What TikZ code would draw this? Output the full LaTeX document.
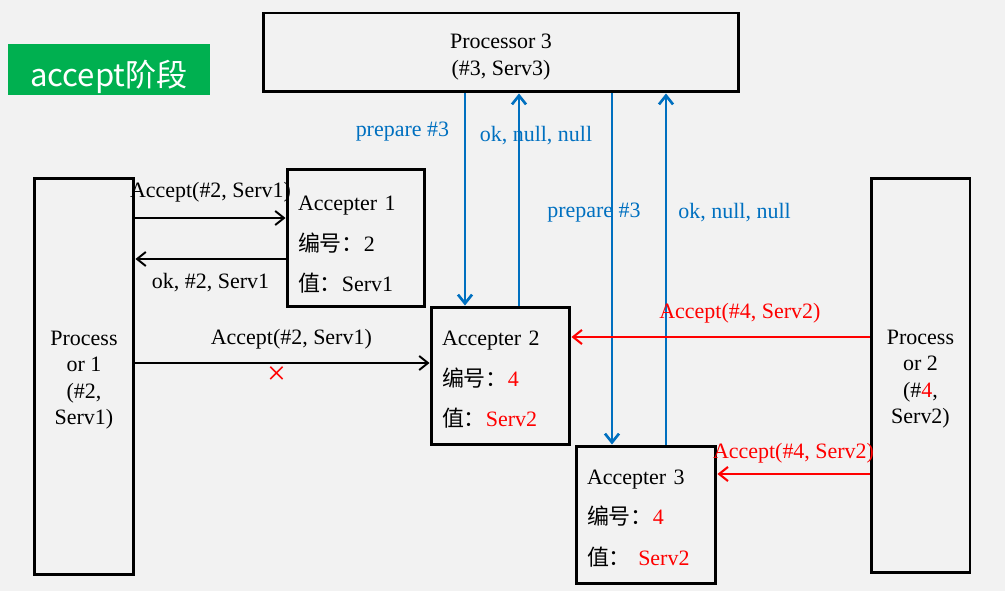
\documentclass[tikz,border=0pt]{standalone}
\usepackage{fontspec}
\setmainfont{Liberation Serif}
\newfontfamily\cjk{Noto Sans CJK SC}
\usetikzlibrary{arrows.meta,positioning}
\definecolor{slidebg}{HTML}{F2F2F2}
\definecolor{msgblue}{HTML}{0070C0}
\definecolor{msgred}{HTML}{FF0000}
\definecolor{stagegreen}{HTML}{00B050}
\def \px {0.02cm}
\newcommand{\zh}[1]{{\cjk #1}}
\newcommand{\lowc}[2][-2.3pt]{\raisebox{#1}[\height][\depth]{\begin{tabular}{@{}c@{}}#2\end{tabular}}}
\newcommand{\lowl}[2][-3pt]{\raisebox{#1}[\height][\depth]{\begin{tabular}{@{}l@{}}#2\end{tabular}}}

\begin{document}
\begin{tikzpicture}[x=\px,y=-\px,
    >={Straight Barb[length=5pt,width=8pt]},
    every node/.style={font=\fontsize{12.5}{15}\selectfont},
    box/.style={draw,line width=1.7pt,inner sep=0pt},
    acc/.style={box,minimum height=2.76cm,inner xsep=0.22cm,align=left,
      font=\fontsize{12.5}{23}\selectfont},
    msg/.style={->,line width=1.1pt},
    blu/.style={msg,draw=msgblue,line width=1.5pt},
    rd/.style={msg,draw=msgred,line width=1.2pt}]
  \fill[slidebg] (0,0) rectangle (1005,591);
  \useasboundingbox (0,0) rectangle (1005,591);

  \node[fill=stagegreen,text=white,minimum width=4.04cm,minimum height=1.02cm,
    font=\cjk\fontsize{17.7}{20}\selectfont] (stage) at (109,69.5)
    {\raisebox{-4pt}[\height][\depth]{accept阶段}};

  \node[box,minimum width=9.52cm,minimum height=1.58cm] (p3) at (501,52.5)
    {\lowc[-2.5pt]{Processor 3\\(\#3, Serv3)}};
  \node[box,minimum width=2cm,minimum height=7.94cm] (p1) at (84,376.5)
    {\lowc[-1.9pt]{Process\\or 1\\(\#2,\\Serv1)}};
  \node[box,minimum width=1.98cm,minimum height=7.9cm] (p2) at (920.5,375.5)
    {\lowc[-1.9pt]{Process\\or 2\\(\#\textcolor{msgred}{4},\\Serv2)}};

  \node[acc,minimum width=2.76cm,text width=2.32cm] (a1) at (356,238)
    {\lowl{Accepter 1\\\zh{编号：}2\\\zh{值：}Serv1}};
  \node[acc,minimum width=2.78cm,text width=2.34cm] (a2) at (500.5,376)
    {\lowl[-1.2pt]{Accepter 2\\\zh{编号：}\textcolor{msgred}{4}\\\zh{值：}\textcolor{msgred}{Serv2}}};
  \node[acc,minimum width=2.8cm,text width=2.36cm] (a3) at (646,515)
    {\lowl[-1pt]{Accepter 3\\\zh{编号：}\textcolor{msgred}{4}\\\zh{值：} \textcolor{msgred}{Serv2}}};

  % processor 1 <-> accepters
  \draw[msg] (p1.east |- 0,218) -- node[above=5pt] {Accept(\#2, Serv1)} (a1.west |- 0,218);
  \draw[msg] (a1.west |- 0,259) -- node[below=4pt] {ok, \#2, Serv1} (p1.east |- 0,259);
  \draw[msg] (p1.east |- 0,363) -- node[pos=0.53,above=4pt] {Accept(\#2, Serv1)}
    node[pos=0.48,yshift=-0.26cm,text=msgred,font=\fontsize{19}{19}\selectfont] (lost) {×}
    (a2.west |- 0,363);

  % processor 3 prepare
  \draw[blu] (p3.south -| 465,0) -- node[pos=0.18,left=5pt,text=msgblue] {prepare \#3} (a2.north -| 465,0);
  \draw[blu] (a2.north -| 519,0) -- node[pos=0.8,xshift=0.34cm,text=msgblue] {ok, null, null} (p3.south -| 519,0);
  \draw[blu] (p3.south -| 612,0) -- node[pos=0.34,xshift=-0.36cm,text=msgblue] {prepare \#3} (a3.north -| 612,0);
  \draw[blu] (a3.north -| 666,0) -- node[pos=0.66,right=3pt,text=msgblue] {ok, null, null} (p3.south -| 666,0);

  % processor 2 accept
  \draw[rd] (p2.west |- 0,337) -- node[pos=0.435,above=4pt,text=msgred] {Accept(\#4, Serv2)} (a2.east |- 0,337);
  \draw[rd] (p2.west |- 0,474) -- node[above=2pt,text=msgred] {Accept(\#4, Serv2)} (a3.east |- 0,474);
\end{tikzpicture}
\end{document}
